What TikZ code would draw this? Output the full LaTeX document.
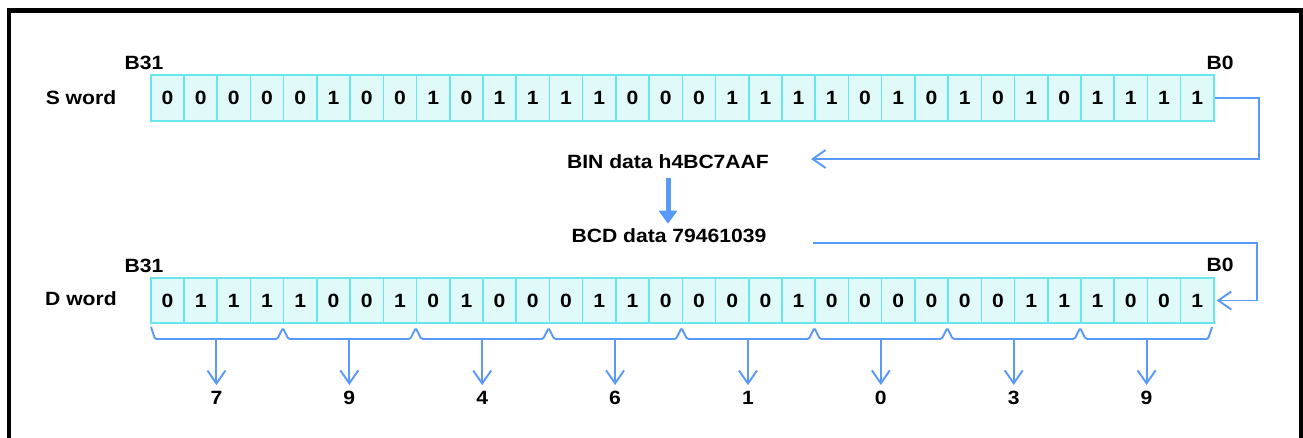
\documentclass[tikz,border=0pt]{standalone}
\usepackage{fontspec}
\setmainfont{Liberation Sans}[FakeStretch=1.1]
\usetikzlibrary{arrows.meta,calc}
\definecolor{cellfill}{HTML}{E0FAFA}
\definecolor{celldraw}{HTML}{68E6EE}
\definecolor{arrblue}{HTML}{5899FA}
\begin{document}
\begin{tikzpicture}[x=1pt,y=-1pt,
  lab/.style={font=\fontsize{19.2}{21}\selectfont\bfseries, inner sep=0pt},
  cell/.style={draw=celldraw, fill=cellfill, line width=1.6pt, minimum width=33.22pt,
    minimum height=45.5pt, inner sep=0pt, anchor=west, font=\fontsize{19.2}{21}\selectfont\bfseries},
  conn/.style={draw=arrblue, line width=1.9pt, -{Straight Barb[length=13pt,width=18pt]}},
  fat/.style={draw=arrblue, line width=5pt, -{Triangle[length=13pt,width=18pt]}},
  brace/.style={draw=arrblue, line width=1.9pt, rounded corners=1.5pt}]
\useasboundingbox (0,0) rectangle (1303,438);
\fill[white] (0,0) rectangle (1303,438);
% frame
\draw[line width=4.5pt] (9,460) -- (9,10.5) -- (1301,10.5) -- (1301,460);
% S word
\node[lab] (sl) at (81,98) {S word};
\node[lab] (sb31) at (144,63) {B31};
\node[lab] (sb0) at (1220,63) {B0};
\foreach \b [count=\i] in {0,0,0,0,0,1,0,0,1,0,1,1,1,1,0,0,0,1,1,1,1,0,1,0,1,0,1,0,1,1,1,1}
  \node[cell] (s\i) at ({150+33.22*(\i-1)},98) {\b};
% D word
\node[lab] (dl) at (81,299) {D word};
\node[lab] (db31) at (144,266) {B31};
\node[lab] (db0) at (1220,265) {B0};
\foreach \b [count=\i] in {0,1,1,1,1,0,0,1,0,1,0,0,0,1,1,0,0,0,0,1,0,0,0,0,0,0,1,1,1,0,0,1}
  \node[cell] (d\i) at ({150+33.22*(\i-1)},300.5) {\b};
% middle texts
\node[lab] (bin) at (668,162) {BIN data h4BC7AAF};
\node[lab] (bcd) at (669,236) {BCD data 79461039};
\coordinate (binin) at (811,159);
\coordinate (bcdout) at (813,243);
\draw[conn] (s32.east) -- ++(44,0) |- (binin);
\draw[fat, shorten <=9pt, shorten >=5pt] (bin.south) -- (bin.south |- bcd.north);
\draw[conn, shorten >=2pt] (bcdout) -- (1257,243) |- (d32.east);
% braces
\draw[brace] (151,327) -- (155,339)
  \foreach \j in {1,...,7}{ -- ({150+132.88*\j-5.5},339) -- ({150+132.88*\j},328) -- ({150+132.88*\j+5.5},339) }
  -- (1208,339) -- (1212,327);
\foreach \d [count=\k from 0] in {7,9,4,6,1,0,3,9} {
  \pgfmathsetmacro\cx{150+132.88*(\k+0.5)}
  \coordinate (g\k) at (\cx,339);
  \node[lab] (n\k) at (\cx,398) {\d};
  \draw[conn, shorten >=6pt] (g\k) -- (n\k.north);
}
\end{tikzpicture}
\end{document}
